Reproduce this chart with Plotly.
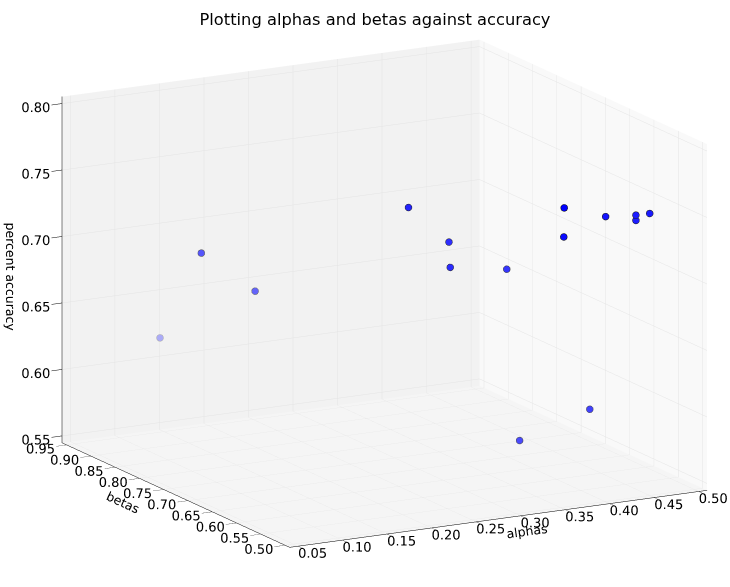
import numpy as np
import plotly.graph_objects as go

# grid-search results: regularisation alpha, momentum beta, validation accuracy
alphas = [0.14, 0.11, 0.165, 0.25, 0.29, 0.286, 0.344, 0.354, 0.359, 0.406, 0.44, 0.44, 0.45, 0.41, 0.353]
betas = [0.94, 0.80, 0.79, 0.63, 0.62, 0.61, 0.60, 0.50, 0.51, 0.51, 0.51, 0.51, 0.50, 0.55, 0.59]
accuracy = [0.618, 0.708, 0.676, 0.758, 0.730, 0.713, 0.708, 0.770, 0.746,
            0.757, 0.755, 0.751, 0.757, 0.605, 0.580]

tick_alphas = [0.05, 0.10, 0.15, 0.20, 0.25, 0.30, 0.35, 0.40, 0.45, 0.50]
tick_betas = [0.50, 0.55, 0.60, 0.65, 0.70, 0.75, 0.80, 0.85, 0.90, 0.95]
tick_acc = [0.55, 0.60, 0.65, 0.70, 0.75, 0.80]

x_range = [0.0406, 0.5094]
y_range = [0.4906, 0.9594]
z_range = [0.5448, 0.8052]

# viewing angles (degrees), vertical box proportion and overall box scale
azim, elev = -118.6, 14.5
z_aspect = 0.752
box_scale = 1.62
# sideways shift of the look-at point (scene units, along screen-right)
pan = -0.0666

# depth shading: farther markers fade toward the pane colour
a = np.asarray(alphas)
b = np.asarray(betas)
c = np.asarray(accuracy)
u = (a - x_range[0]) / (x_range[1] - x_range[0]) - 0.5
v = (b - y_range[0]) / (y_range[1] - y_range[0]) - 0.5
w = ((c - z_range[0]) / (z_range[1] - z_range[0]) - 0.5) * z_aspect
az, el = np.radians(azim), np.radians(elev)
view = np.array([np.cos(el) * np.cos(az), np.cos(el) * np.sin(az), np.sin(el)])
depth = -(u * view[0] + v * view[1] + w * view[2])
t = (depth - depth.min()) / (depth.max() - depth.min())
sats = 1 - 0.7 * t

bg = np.array([244, 244, 244])
blue = np.array([0, 0, 255])
black = np.array([0, 0, 0])


def mix(col, s):
    rgb = (col * s + bg * (1 - s)).round().astype(int)
    return "#%02x%02x%02x" % tuple(rgb)


face_colors = [mix(blue, s) for s in sats]
edge_colors = [mix(black, s) for s in sats]

fig = go.Figure()
fig.add_trace(go.Scatter3d(
    x=alphas, y=betas, z=accuracy,
    mode="markers",
    marker=dict(size=4, color=face_colors, opacity=1,
                line=dict(color=edge_colors, width=1.5)),
    hoverinfo="skip",
    showlegend=False,
))

font = dict(family="DejaVu Sans", size=12.5, color="black")


def axis(title, rng, ticks, pane, ticklen):
    return dict(
        title=dict(text=title, font=font),
        range=rng,
        tickvals=ticks,
        ticktext=["%.2f" % tv for tv in ticks],
        tickfont=font,
        tickangle=0,
        showgrid=True, gridcolor="#e4e4e4", gridwidth=1,
        showbackground=True, backgroundcolor=pane,
        showline=True, linecolor="black", linewidth=1,
        ticks="outside", ticklen=ticklen, tickcolor="black",
        zeroline=False, showspikes=False,
        autorange=False,
    )


right = np.array([-np.sin(az), np.cos(az), 0.0])
center = pan * right
dist = 2.0
eye_pos = center + dist * view

fig.update_layout(
    width=730, height=587,
    margin=dict(l=0, r=0, t=0, b=0),
    paper_bgcolor="white",
    title=dict(text="Plotting alphas and betas against accuracy",
               font=dict(family="DejaVu Sans", size=16.3, color="black"),
               x=375 / 730, xanchor="center", y=1 - 19 / 587, yanchor="middle",
               yref="container"),
    scene=dict(
        domain=dict(x=[0.0, 1.0], y=[0.0, 1.0]),
        xaxis=axis("alphas", x_range, tick_alphas, "#f9f9f9", 12),
        yaxis=axis("betas", y_range, tick_betas, "#f2f2f2", 12),
        zaxis=axis("percent accuracy", z_range, tick_acc, "#f5f5f5", 6),
        aspectmode="manual",
        aspectratio=dict(x=box_scale, y=box_scale, z=z_aspect * box_scale),
        camera=dict(eye=dict(x=eye_pos[0], y=eye_pos[1], z=eye_pos[2]),
                    up=dict(x=0, y=0, z=1),
                    center=dict(x=center[0], y=center[1], z=center[2]),
                    projection=dict(type="orthographic")),
        bgcolor="white",
    ),
)

fig.write_html("out.html", config={"displayModeBar": False})
